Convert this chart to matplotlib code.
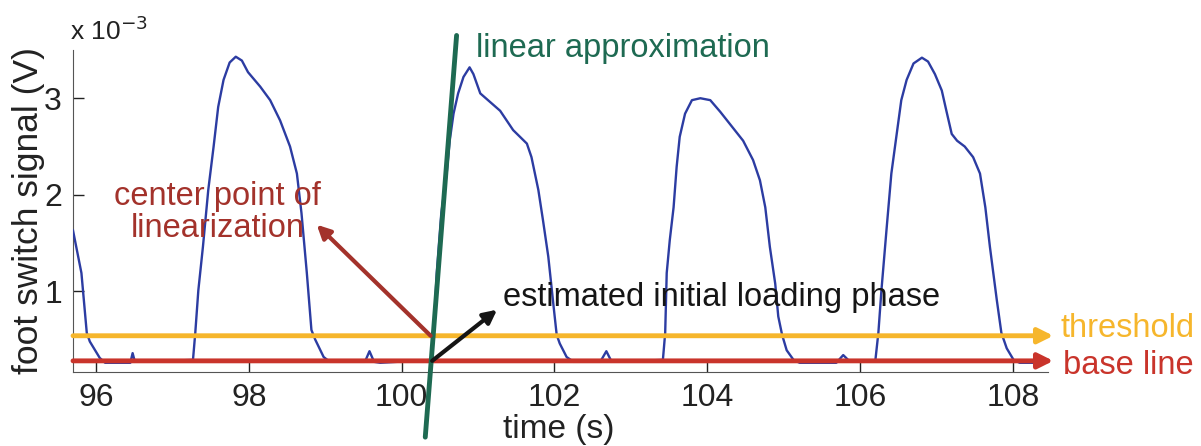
import matplotlib
matplotlib.use('Agg')
import matplotlib.pyplot as plt

plt.rcParams['font.family'] = ['Liberation Sans', 'DejaVu Sans']

# foot switch signal, time in s, voltage in units of 1e-3 V
time_s = [95.70, 95.81, 95.88, 95.92, 96.05, 96.12, 96.45, 96.48, 96.51, 97.27,
          97.30, 97.34, 97.40, 97.47, 97.54, 97.60, 97.67, 97.75, 97.83, 97.91,
          97.99, 98.15, 98.28, 98.41, 98.54, 98.63, 98.69, 98.76, 98.82, 98.87,
          98.98, 99.06, 99.52, 99.58, 99.64, 99.72, 100.39,
          100.42, 100.46, 100.52, 100.59, 100.63, 100.68, 100.74, 100.81, 100.89, 100.94,
          101.03, 101.16, 101.29, 101.46, 101.64, 101.70, 101.79, 101.85, 101.92, 101.99,
          102.03, 102.07, 102.16, 102.25, 102.60, 102.68, 102.75, 103.42,
          103.45, 103.47, 103.51, 103.56, 103.60, 103.64, 103.71, 103.80, 103.91, 104.04,
          104.17, 104.34, 104.47, 104.60, 104.69, 104.76, 104.82, 104.89, 104.93, 104.98,
          105.04, 105.13, 105.21, 105.69, 105.78, 105.87, 106.20,
          106.24, 106.28, 106.35, 106.41, 106.48, 106.54, 106.61, 106.70, 106.81, 106.89,
          106.98, 107.07, 107.13, 107.20, 107.27, 107.37, 107.48, 107.57, 107.64, 107.70,
          107.79, 107.85, 107.92, 108.01, 108.09, 108.31]
signal_mv = [1.63, 1.19, 0.57, 0.48, 0.31, 0.26, 0.26, 0.36, 0.27, 0.29,
             0.57, 1.01, 1.46, 2.05, 2.50, 2.91, 3.19, 3.37, 3.43, 3.39,
             3.27, 3.12, 2.98, 2.77, 2.50, 2.22, 1.81, 1.19, 0.60, 0.50,
             0.32, 0.27, 0.27, 0.38, 0.27, 0.26, 0.29,
             0.57, 1.19, 1.81, 2.22, 2.56, 2.84, 3.05, 3.22, 3.32, 3.25,
             3.05, 2.96, 2.87, 2.67, 2.53, 2.39, 2.05, 1.74, 1.36, 0.84,
             0.55, 0.46, 0.32, 0.27, 0.27, 0.38, 0.27, 0.29,
             0.57, 1.19, 1.53, 1.87, 2.29, 2.60, 2.84, 2.98, 3.00, 2.98,
             2.86, 2.69, 2.56, 2.36, 2.15, 1.87, 1.46, 1.08, 0.74, 0.55,
             0.39, 0.29, 0.26, 0.26, 0.34, 0.27, 0.28,
             0.57, 1.01, 1.67, 2.22, 2.63, 2.98, 3.19, 3.36, 3.42, 3.38,
             3.25, 3.08, 2.87, 2.63, 2.56, 2.50, 2.39, 2.22, 1.87, 1.46,
             0.91, 0.57, 0.41, 0.29, 0.26, 0.26]

threshold = 0.54
baseline = 0.28
line_end = 108.53

# linear approximation end points (t, v)
lin_t = [100.72, 100.31]
lin_v = [3.65, -0.51]

center_pt = (100.38, threshold)
onset_pt = (100.40, baseline)
center_arrow_head = (98.89, 1.69)
onset_arrow_head = (101.25, 0.81)

xticks = [96, 98, 100, 102, 104, 106, 108]
yticks = [1, 2, 3]

blue = '#2c3ca2'
yellow = '#f6b62c'
red = '#c9342b'
brown = '#a3322b'
green = '#1e6a52'

fig = plt.figure(figsize=(12.01, 4.46), dpi=100)
ax = fig.add_axes([0.0608, 0.166, 0.8118, 0.722])

ax.plot(time_s, signal_mv, color=blue, lw=1.7, zorder=3)

# threshold and base line, arrow heads outside the axes
for lvl, col in [(threshold, yellow), (baseline, red)]:
    ax.annotate('', xy=(line_end, lvl), xytext=(95.70, lvl),
                arrowprops=dict(arrowstyle='-|>,head_length=0.9,head_width=0.45',
                                color=col, lw=3.5, shrinkA=0, shrinkB=0),
                annotation_clip=False, zorder=4)

ax.plot(lin_t, lin_v, color=green, lw=3.5, clip_on=False, zorder=5,
        solid_capstyle='round')

ax.annotate('', xy=center_arrow_head, xytext=center_pt,
            arrowprops=dict(arrowstyle='-|>,head_length=0.8,head_width=0.4',
                            color=brown, lw=3, shrinkA=0, shrinkB=0), zorder=6)
ax.annotate('', xy=onset_arrow_head, xytext=onset_pt,
            arrowprops=dict(arrowstyle='-|>,head_length=0.8,head_width=0.4',
                            color='#151515', lw=3, shrinkA=0, shrinkB=0), zorder=6)

ax.text(97.59, 1.82, 'center point of\nlinearization', color=brown, fontsize=23.5,
        ha='center', va='center', linespacing=1.05)
ax.text(101.33, 0.94, 'estimated initial loading phase', color='#151515',
        fontsize=23.5, ha='left', va='center')
ax.text(100.97, 3.52, 'linear approximation', color=green, fontsize=23.5,
        ha='left', va='center', clip_on=False)
ax.text(108.62, 0.62, 'threshold', color=yellow, fontsize=23.5,
        ha='left', va='center', clip_on=False)
ax.text(108.65, 0.23, 'base line', color=red, fontsize=23.5,
        ha='left', va='center', clip_on=False)

ax.set_xlim(95.70, 108.46)
ax.set_ylim(0.165, 3.5)
ax.set_xticks(xticks)
ax.set_yticks(yticks)
ax.tick_params(direction='in', length=8, width=1, labelsize=23, colors='#222222', pad=8)
for s in ['top', 'right']:
    ax.spines[s].set_visible(False)
for s in ['left', 'bottom']:
    ax.spines[s].set_color('#555555')

fig.text(0.024, 0.529, 'foot switch signal (V)', rotation=90, fontsize=25.5,
         ha='center', va='center', color='#222222')
fig.text(0.465, 0.038, 'time (s)', fontsize=24, ha='center', va='center', color='#222222')
fig.text(0.058, 0.93, r'x 10$^{-3}$', fontsize=19, ha='left', va='center', color='#222222')

fig.savefig('out.png', dpi=100)
